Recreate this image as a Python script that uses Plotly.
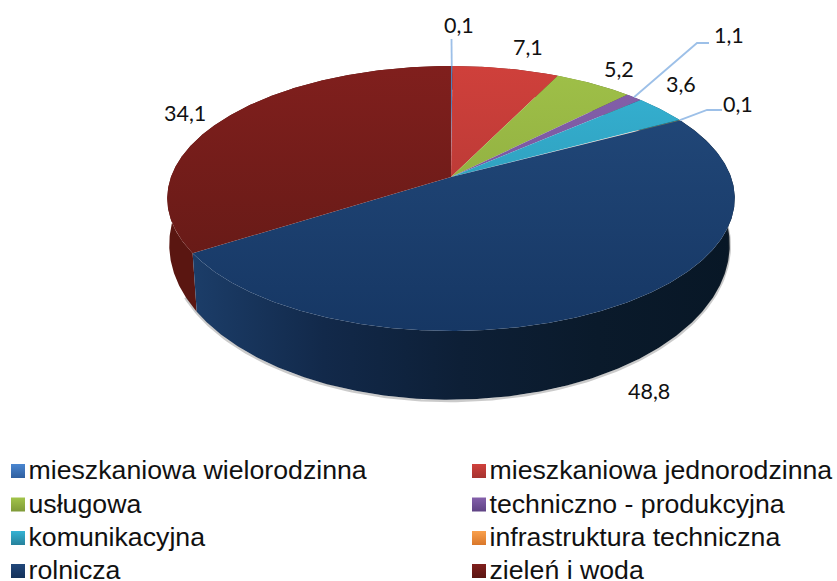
import numpy as np
import plotly.graph_objects as go

categories = ["mieszkaniowa wielorodzinna", "mieszkaniowa jednorodzinna", "usługowa",
              "techniczno - produkcyjna", "komunikacyjna", "infrastruktura techniczna",
              "rolnicza", "zieleń i woda"]
values = [0.1, 7.1, 5.2, 1.1, 3.6, 0.1, 48.8, 34.1]
value_labels = ["0,1", "7,1", "5,2", "1,1", "3,6", "0,1", "48,8", "34,1"]

# top-face gradient colours (upper, lower) per slice
face_colors = [("#4f81bd", "#3f6ea8"), ("#cf403b", "#a63431"), ("#9fc048", "#84a03b"),
               ("#8460ab", "#6e4e92"), ("#35b3d4", "#2a8ba6"), ("#f79646", "#d47c30"),
               ("#234a7c", "#163764"), ("#801f1d", "#5f1915")]
side_colors = [["#33567f", "#22405f"], ["#7a2320", "#6a1e1b"], ["#5f7229", "#556624"],
               ["#4b3566", "#412e59"], ["#1f6f85", "#1a6073"], ["#94591f", "#84501c"],
               ["#1c3e6a", "#12294a", "#0d1f36", "#0a1a2b", "#081726"],
               ["#5a1611", "#601914"]]

# projection of the pie disc on the page (pixels)
TOP = dict(cx=451, y0=177, a=280, b=129, k=0.162)
BOT = dict(cx=449.5, y0=223, a=277.5, b=152, k=0.14)
PIE_TOP, PIE_BOTTOM, PIE_LEFT, PIE_RIGHT = 66, 331, 167, 735


def project(theta, p):
    u, v = np.sin(theta), np.cos(theta)
    d = 1 + p["k"] * v
    return p["cx"] + p["a"] * u / d, p["y0"] - p["b"] * v / d


total = sum(values)
fractions = np.cumsum([0] + values) / total * 2 * np.pi
fig = go.Figure()


def scale(cols):
    return [[i / (len(cols) - 1), c] for i, c in enumerate(cols)]


# sides, back to front
for i in reversed(range(len(values))):
    th = np.linspace(fractions[i], fractions[i + 1], max(4, int(values[i] * 8)))
    xt, yt = project(th, TOP)
    xb, yb = project(th[::-1], BOT)
    fig.add_trace(go.Scatter(x=np.r_[xt, xb], y=np.r_[yt, yb], mode="lines", line=dict(width=0),
                             fill="toself", showlegend=False, hoverinfo="skip",
                             fillgradient=dict(type="horizontal", colorscale=scale(side_colors[i]),
                                               start=PIE_LEFT + 20, stop=PIE_RIGHT)))

# soft shadow below the rim
th = np.linspace(fractions[6] - 0.5, fractions[7] + 0.1, 200)
xs, ys = project(th, BOT)
fig.add_trace(go.Scatter(x=xs, y=ys + 1.2, mode="lines", line=dict(color="rgba(70,70,70,0.28)", width=2.5),
                         showlegend=False, hoverinfo="skip"))

# top faces
for i in range(len(values)):
    th = np.linspace(fractions[i], fractions[i + 1], max(4, int(values[i] * 8)))
    xt, yt = project(th, TOP)
    fig.add_trace(go.Scatter(x=np.r_[TOP["cx"], xt, TOP["cx"]], y=np.r_[TOP["y0"], yt, TOP["y0"]], mode="lines",
                             line=dict(width=0), fill="toself", showlegend=False, hoverinfo="skip",
                             fillgradient=dict(type="vertical", colorscale=scale(face_colors[i]),
                                               start=PIE_TOP, stop=PIE_BOTTOM)))

# leader lines: slice edge -> elbow -> label
LEADER = "#9dc0e8"
elbows = {0: [(451.5, 39)], 3: [(697, 43), (709, 43)], 5: [(707, 110), (722, 110)]}
for i, pts in elbows.items():
    mx, my = project(np.array([(fractions[i] + fractions[i + 1]) / 2]), TOP)
    fig.add_trace(go.Scatter(x=[mx[0]] + [p[0] for p in pts], y=[my[0]] + [p[1] for p in pts],
                             mode="lines", line=dict(color=LEADER, width=1.8),
                             showlegend=False, hoverinfo="skip"))

# legend entries, two columns of four rows
legend_cols = [("#4a86d0", "#2f5f9f"), ("#d0413c", "#a53330"), ("#a2c44a", "#7f9a38"),
               ("#8460ab", "#5f4384"), ("#35b3d4", "#26819b"), ("#f9a04c", "#d9772a"),
               ("#21477a", "#14315a"), ("#801f1d", "#5a1612")]
COL_X = [18, 479]
ROW_Y = [471, 504.5, 538, 571]
TEXT_DX, TEXT_DY = 10.5, 1.5
for n, (name, (c1, c2)) in enumerate(zip(categories, legend_cols)):
    x, y = COL_X[n % 2], ROW_Y[n // 2]
    fig.add_trace(go.Scatter(x=[x], y=[y], mode="markers", name=name, showlegend=False,
                             marker=dict(symbol="square", size=14, color=c1, line=dict(width=0),
                                         gradient=dict(type="vertical", color=c2))))
    fig.add_trace(go.Scatter(x=[x + TEXT_DX], y=[y + TEXT_DY], mode="text", name=name,
                             text=[name], textposition="middle right", showlegend=False,
                             textfont=dict(family="Liberation Sans", size=26.7, color="#111111")))

label_pos = [(459, 24.5), (528, 46.5), (619, 68.5), (729, 34.5), (681, 83.5), (738, 103.5), (649, 391), (185, 112.5)]
for txt, (lx, ly) in zip(value_labels, label_pos):
    fig.add_annotation(x=lx, y=ly, text=txt, showarrow=False, xref="x", yref="y",
                       font=dict(family="Lato", size=21.5, color="#111111"))

fig.update_layout(
    width=837, height=581, autosize=False, showlegend=False,
    margin=dict(l=0, r=0, t=0, b=0, autoexpand=False),
    paper_bgcolor="white", plot_bgcolor="white",
    xaxis=dict(range=[0, 837], visible=False, fixedrange=True),
    yaxis=dict(range=[581, 0], visible=False, fixedrange=True),
)
fig.write_html("out.html", config={"displayModeBar": False},
               post_script="document.body.style.margin='0';document.documentElement.style.overflow='hidden';")
